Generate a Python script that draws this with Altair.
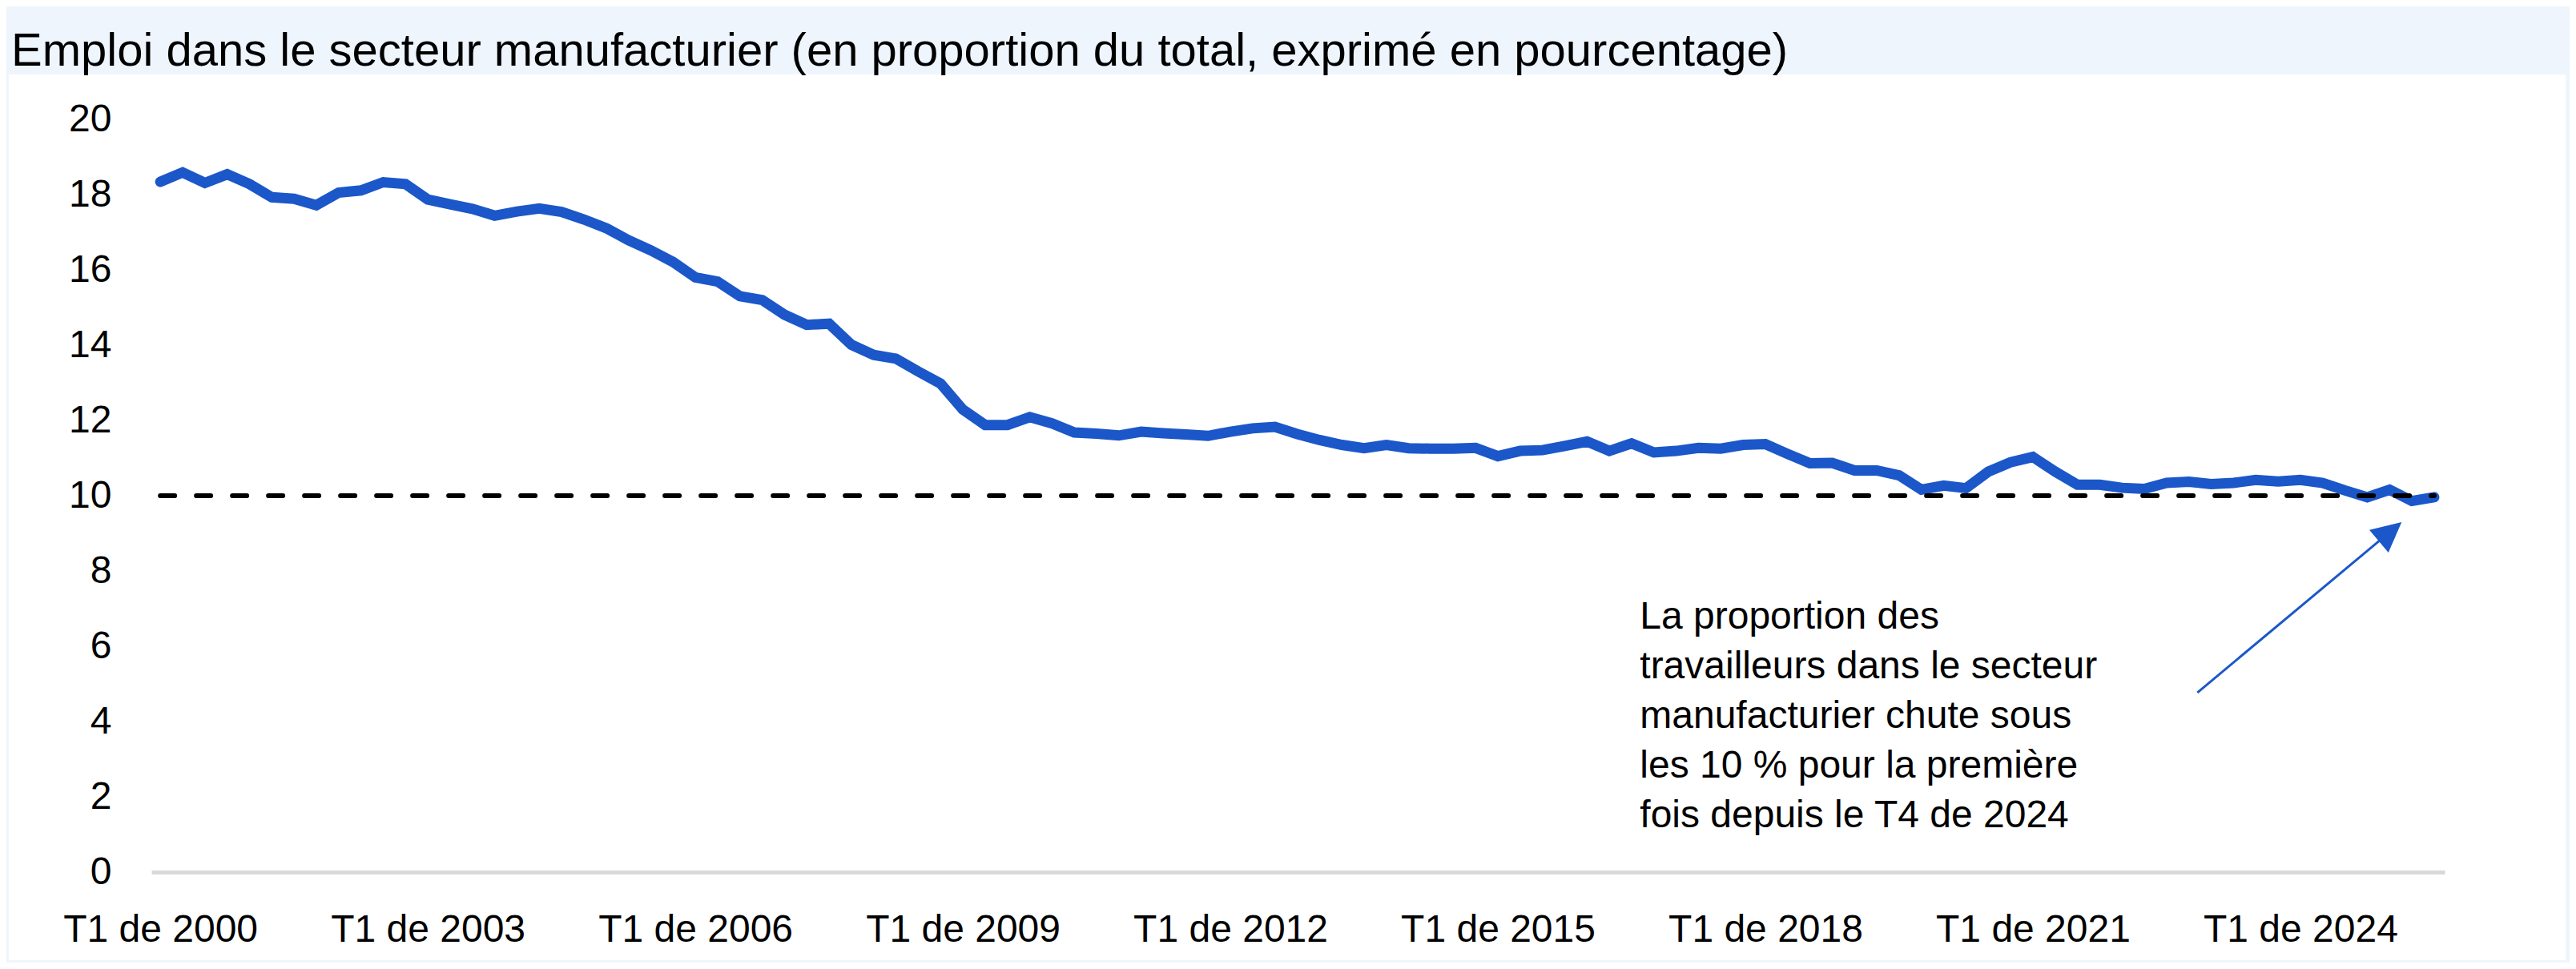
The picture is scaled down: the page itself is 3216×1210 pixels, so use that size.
import altair as alt
import pandas as pd

# ---- data (quarterly, T1 2000 -> T3 2025) ----
share = [
    18.34, 18.59, 18.31, 18.54, 18.28, 17.93, 17.89, 17.72,
    18.05, 18.11, 18.33, 18.28, 17.87, 17.74, 17.62, 17.44,
    17.55, 17.63, 17.54, 17.34, 17.11, 16.79, 16.52, 16.21,
    15.80, 15.69, 15.30, 15.20, 14.81, 14.54, 14.57, 14.01,
    13.74, 13.64, 13.30, 12.98, 12.29, 11.88, 11.88, 12.09,
    11.92, 11.68, 11.65, 11.60, 11.70, 11.66, 11.63, 11.59,
    11.70, 11.79, 11.83, 11.64, 11.48, 11.35, 11.26, 11.35,
    11.26, 11.25, 11.25, 11.27, 11.05, 11.19, 11.21, 11.32,
    11.44, 11.19, 11.39, 11.15, 11.19, 11.27, 11.25, 11.35,
    11.37, 11.11, 10.86, 10.87, 10.67, 10.67, 10.54, 10.16,
    10.27, 10.20, 10.64, 10.89, 11.03, 10.64, 10.29, 10.29,
    10.21, 10.18, 10.34, 10.37, 10.31, 10.34, 10.42, 10.38,
    10.42, 10.34, 10.14, 9.96, 10.16, 9.86, 9.96,
]
start_year = 2000
tick_quarters = [0, 12, 24, 36, 48, 60, 72, 84, 96]
y_ticks = [0, 2, 4, 6, 8, 10, 12, 14, 16, 18, 20]
threshold = 10

title_text = "Emploi dans le secteur manufacturier (en proportion du total, exprimé en pourcentage)"
note_lines = [
    "La proportion des",
    "travailleurs dans le secteur",
    "manufacturier chute sous",
    "les 10 % pour la première",
    "fois depuis le T4 de 2024",
]
# annotation anchor (data units: quarter index, percent)
note_x, note_y = 66.37, 6.468
arrow_tail = (91.38, 4.77)
arrow_head = (99.86, 8.96)

labels = [f"T{i % 4 + 1} de {start_year + i // 4}" for i in range(len(share))]
df = pd.DataFrame({"t": list(range(len(share))), "share": share, "label": labels})
df_thr = pd.DataFrame({"x0": [0], "x1": [len(share) - 1], "y": [threshold]})
df_arrow = pd.DataFrame({"x0": [arrow_tail[0]], "y0": [arrow_tail[1]],
                         "x1": [arrow_head[0]], "y1": [arrow_head[1]]})
df_note = pd.DataFrame({"x": [note_x], "y": [note_y], "txt": ["\n".join(note_lines)]})
df_panel = pd.DataFrame({"a": [0]})

FONT = "Liberation Sans, Arial, Helvetica, sans-serif"
BLUE = "#1B57C9"
BG = "#EEF5FD"

x_scale = alt.Scale(domain=[-0.4, 102.47], nice=False, zero=False)
y_scale = alt.Scale(domain=[0, 20], nice=False)

x_axis = alt.Axis(
    values=tick_quarters,
    labelExpr=f"'T1 de ' + ({start_year} + datum.value / 4)",
    title=None, grid=False, ticks=False, tickSize=0,
    domain=True, domainColor="#D9D9D9", domainWidth=5,
    labelFont=FONT, labelFontSize=48, labelColor="#000000",
    labelPadding=48, labelOverlap=False, labelFlush=False, labelLimit=600,
    zindex=1,
)
y_axis = alt.Axis(
    values=y_ticks, title=None, grid=False, ticks=False, tickSize=0,
    domain=False, labelFont=FONT, labelFontSize=48, labelColor="#000000",
    labelPadding=50, zindex=1,
)

panel = alt.Chart(df_panel).mark_rect(fill="#FFFFFF", stroke=None).encode(
    x=alt.value(-178), x2=alt.value(3014), y=alt.value(-56), y2=alt.value(1050)
)

line = alt.Chart(df).mark_line(
    color=BLUE, strokeWidth=13, strokeCap="round", strokeJoin="miter"
).encode(
    x=alt.X("t:Q", scale=x_scale, axis=x_axis),
    y=alt.Y("share:Q", scale=y_scale, axis=y_axis),
)

thr = alt.Chart(df_thr).mark_rule(
    color="#000000", strokeWidth=6, strokeDash=[18, 27], strokeCap="round"
).encode(
    x=alt.X("x0:Q", scale=x_scale, axis=x_axis),
    x2="x1:Q",
    y=alt.Y("y:Q", scale=y_scale, axis=y_axis),
)

arrow_line = alt.Chart(df_arrow).mark_rule(color=BLUE, strokeWidth=3).encode(
    x=alt.X("x0:Q", scale=x_scale, axis=x_axis),
    y=alt.Y("y0:Q", scale=y_scale, axis=y_axis),
    x2="x1:Q", y2="y1:Q",
)

arrow_tip = alt.Chart(df_arrow).mark_point(
    shape="M0,-1L0.75,0.5L-0.75,0.5Z", filled=True, fill=BLUE, color=BLUE,
    opacity=1, size=2440, angle=50, strokeWidth=0,
).encode(
    x=alt.X("x1:Q", scale=x_scale, axis=x_axis),
    y=alt.Y("y1:Q", scale=y_scale, axis=y_axis),
)

note = alt.Chart(df_note).mark_text(
    align="left", baseline="alphabetic", font=FONT, fontSize=48,
    lineHeight=62, lineBreak="\n", color="#000000",
).encode(
    x=alt.X("x:Q", scale=x_scale, axis=x_axis),
    y=alt.Y("y:Q", scale=y_scale, axis=y_axis),
    text="txt:N",
)

chart = alt.layer(panel, line, thr, arrow_line, arrow_tip, note).properties(
    width=2863,
    height=940,
    title=alt.TitleParams(
        text=title_text, anchor="start", frame="group", dx=-175, dy=65, offset=18,
        font=FONT, fontSize=58, fontWeight="normal", color="#000000",
        baseline="alphabetic",
    ),
    background=BG,
    padding={"left": 181, "top": 141, "right": 156, "bottom": 113},
    autosize=alt.AutoSizeParams(type="none"),
).configure_view(stroke=None)

chart.save("out.html", embed_options={"renderer": "svg", "actions": False})
